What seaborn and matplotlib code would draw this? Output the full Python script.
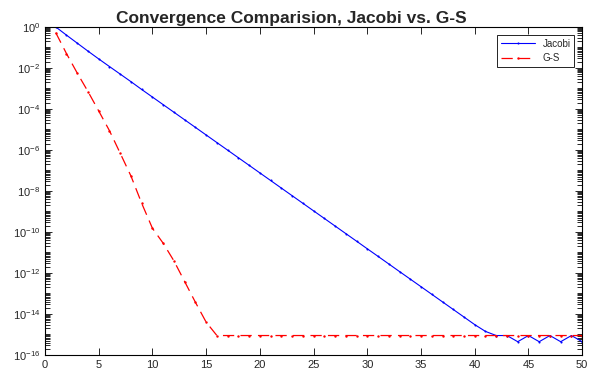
import numpy as np
import pandas as pd
import matplotlib
matplotlib.use("Agg")
import matplotlib.pyplot as plt
import matplotlib.ticker as mticker
import seaborn as sns

# iteration numbers and error
iterations = list(range(1, 51))

jacobi_err = [
    1.0, 3.98e-1, 1.62e-1, 6.61e-2, 2.75e-2, 1.17e-2, 5.01e-3, 2.14e-3, 8.91e-4, 3.80e-4,
    1.62e-4, 6.92e-5, 2.95e-5, 1.26e-5, 5.37e-6, 2.29e-6, 9.77e-7, 4.17e-7, 1.78e-7, 7.59e-8,
    3.24e-8, 1.38e-8, 5.89e-9, 2.51e-9, 1.07e-9, 4.57e-10, 1.95e-10, 8.32e-11, 3.55e-11, 1.51e-11,
    6.46e-12, 2.75e-12, 1.17e-12, 5.01e-13, 2.14e-13, 9.12e-14, 3.89e-14, 1.66e-14, 7.08e-15, 3.02e-15,
    1.41e-15, 8.88e-16, 8.88e-16, 4.44e-16, 8.88e-16, 4.44e-16, 8.88e-16, 4.44e-16, 8.88e-16, 4.44e-16,
]

gs_err = [
    5.25e-1, 5.01e-2, 5.62e-3, 7.08e-4, 7.94e-5, 8.71e-6, 6.92e-7, 5.37e-8, 2.51e-9, 1.51e-10,
    2.82e-11, 3.89e-12, 3.80e-13, 3.72e-14, 3.98e-15, 8.88e-16, 8.88e-16, 8.88e-16, 8.88e-16, 8.88e-16,
    8.88e-16, 8.88e-16, 8.88e-16, 8.88e-16, 8.88e-16, 8.88e-16, 8.88e-16, 8.88e-16, 8.88e-16, 8.88e-16,
    8.88e-16, 8.88e-16, 8.88e-16, 8.88e-16, 8.88e-16, 8.88e-16, 8.88e-16, 8.88e-16, 8.88e-16, 8.88e-16,
    8.88e-16, 8.88e-16, 8.88e-16, 8.88e-16, 8.88e-16, 8.88e-16, 8.88e-16, 8.88e-16, 8.88e-16, 8.88e-16,
]

df = pd.DataFrame({"iter": iterations, "Jacobi": jacobi_err, "G-S": gs_err})

sns.set_style("ticks")
plt.rcParams['font.family'] = ['Liberation Sans', 'DejaVu Sans']

fig = plt.figure(figsize=(5.89, 3.69), dpi=100)
ax = fig.add_axes([0.0764, 0.038, 0.912, 0.889])

sns.lineplot(data=df, x="iter", y="Jacobi", color="blue", marker=".", markersize=3,
             markeredgewidth=0, linewidth=0.8, label="Jacobi", ax=ax)
sns.lineplot(data=df, x="iter", y="G-S", color="red", marker=".", markersize=3.5,
             markeredgewidth=0, linewidth=0.9, linestyle=(0, (9, 5)), label="G-S", ax=ax)

ax.set_yscale("log")
ax.set_xlim(0, 50)
ax.set_ylim(1e-16, 1)
ax.set_xticks(range(0, 51, 5))
ax.yaxis.set_major_locator(mticker.FixedLocator([10.0 ** -p for p in range(0, 17, 2)]))
ax.yaxis.set_major_formatter(mticker.LogFormatterSciNotation())
minor_locs = [m * 10.0 ** -p for p in range(1, 17) for m in range(2, 10)]
minor_locs += [10.0 ** -p for p in range(1, 17, 2)]
ax.yaxis.set_minor_locator(mticker.FixedLocator(minor_locs))
ax.yaxis.set_minor_formatter(mticker.NullFormatter())

ax.tick_params(which="both", direction="in", top=True, right=True, labelsize=8, width=0.7,
               color="#262626")
ax.tick_params(which="major", length=5)
ax.tick_params(axis="y", which="minor", length=3.5, left=True, right=True)
for s in ax.spines.values():
    s.set_linewidth(0.8)
    s.set_color("black")

ax.set_xlabel("")
ax.set_ylabel("")
ax.set_title("Convergence Comparision, Jacobi vs. G-S", fontsize=12.5, fontweight="bold",
             pad=3, x=0.458)

leg = ax.legend(loc="upper right", fontsize=7, frameon=True, fancybox=False,
                framealpha=1, edgecolor="black", handlelength=3.5, borderaxespad=0.8)
leg.get_frame().set_linewidth(0.6)

fig.savefig("out.png", dpi=100)
